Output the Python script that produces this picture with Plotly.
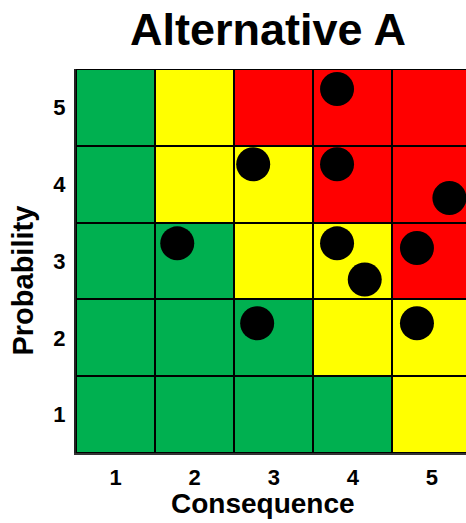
import plotly.graph_objects as go

# Risk matrix: consequence (columns) vs probability (rows)
consequence = [1, 2, 3, 4, 5]
probability = [1, 2, 3, 4, 5]

# Risk level per cell (0 = low/green, 1 = medium/yellow, 2 = high/red),
# rows ordered by probability 1..5
risk_level = [
    [0, 0, 0, 0, 1],
    [0, 0, 0, 1, 1],
    [0, 0, 1, 1, 2],
    [0, 1, 1, 2, 2],
    [0, 1, 2, 2, 2],
]

# Assessed risks placed within their cells
risk_consequence = [3.80, 3.80, 2.74, 5.22, 3.80, 4.81, 1.78, 4.15, 2.79, 4.81]
risk_probability = [5.24, 4.26, 4.26, 3.82, 3.23, 3.17, 3.23, 2.76, 2.19, 2.19]

level_colors = [[0.0, "#00B050"], [0.5, "#FFFF00"], [1.0, "#FF0000"]]
FONT = "Liberation Sans, Arial, sans-serif"

fig = go.Figure()

fig.add_trace(go.Heatmap(
    x=consequence,
    y=probability,
    z=risk_level,
    zmin=0,
    zmax=2,
    colorscale=level_colors,
    showscale=False,
    xgap=2,
    ygap=2,
    hoverinfo="skip",
))

fig.add_trace(go.Scatter(
    x=risk_consequence,
    y=risk_probability,
    mode="markers",
    marker=dict(color="black", size=34, line=dict(width=0)),
    cliponaxis=False,
    showlegend=False,
))

fig.update_layout(
    width=466,
    height=523,
    margin=dict(l=76, r=0, t=69, b=70),
    paper_bgcolor="white",
    plot_bgcolor="black",
    showlegend=False,
    title=dict(
        text="<b>Alternative A</b>",
        x=0.575,
        xanchor="center",
        y=0.945,
        yanchor="middle",
        font=dict(family=FONT, size=45, color="black"),
    ),
    annotations=[
        dict(
            text="<b>Consequence</b>",
            xref="paper", yref="paper",
            x=0.48, y=-0.132,
            xanchor="center", yanchor="middle",
            showarrow=False,
            font=dict(family=FONT, size=28, color="black"),
        ),
        dict(
            text="<b>Probability</b>",
            xref="paper", yref="paper",
            x=-0.135, y=0.45,
            xanchor="center", yanchor="middle",
            textangle=-90,
            showarrow=False,
            font=dict(family=FONT, size=29, color="black"),
        ),
    ],
)

fig.update_xaxes(
    range=[0.5, 5.43],
    tickvals=consequence,
    ticktext=[f"<b>{v}</b>" for v in consequence],
    tickfont=dict(family=FONT, size=22, color="black"),
    ticks="",
    ticklabelstandoff=4,
    showgrid=False,
    zeroline=False,
    showline=True,
    linecolor="#333333",
    linewidth=2,
    fixedrange=True,
)

fig.update_yaxes(
    range=[0.5, 5.5],
    tickvals=probability,
    ticktext=[f"<b>{v}</b>" for v in probability],
    tickfont=dict(family=FONT, size=22, color="black"),
    ticks="",
    ticklabelstandoff=4,
    showgrid=False,
    zeroline=False,
    showline=True,
    linecolor="#222222",
    linewidth=2,
    fixedrange=True,
)

fig.write_html("out.html")
